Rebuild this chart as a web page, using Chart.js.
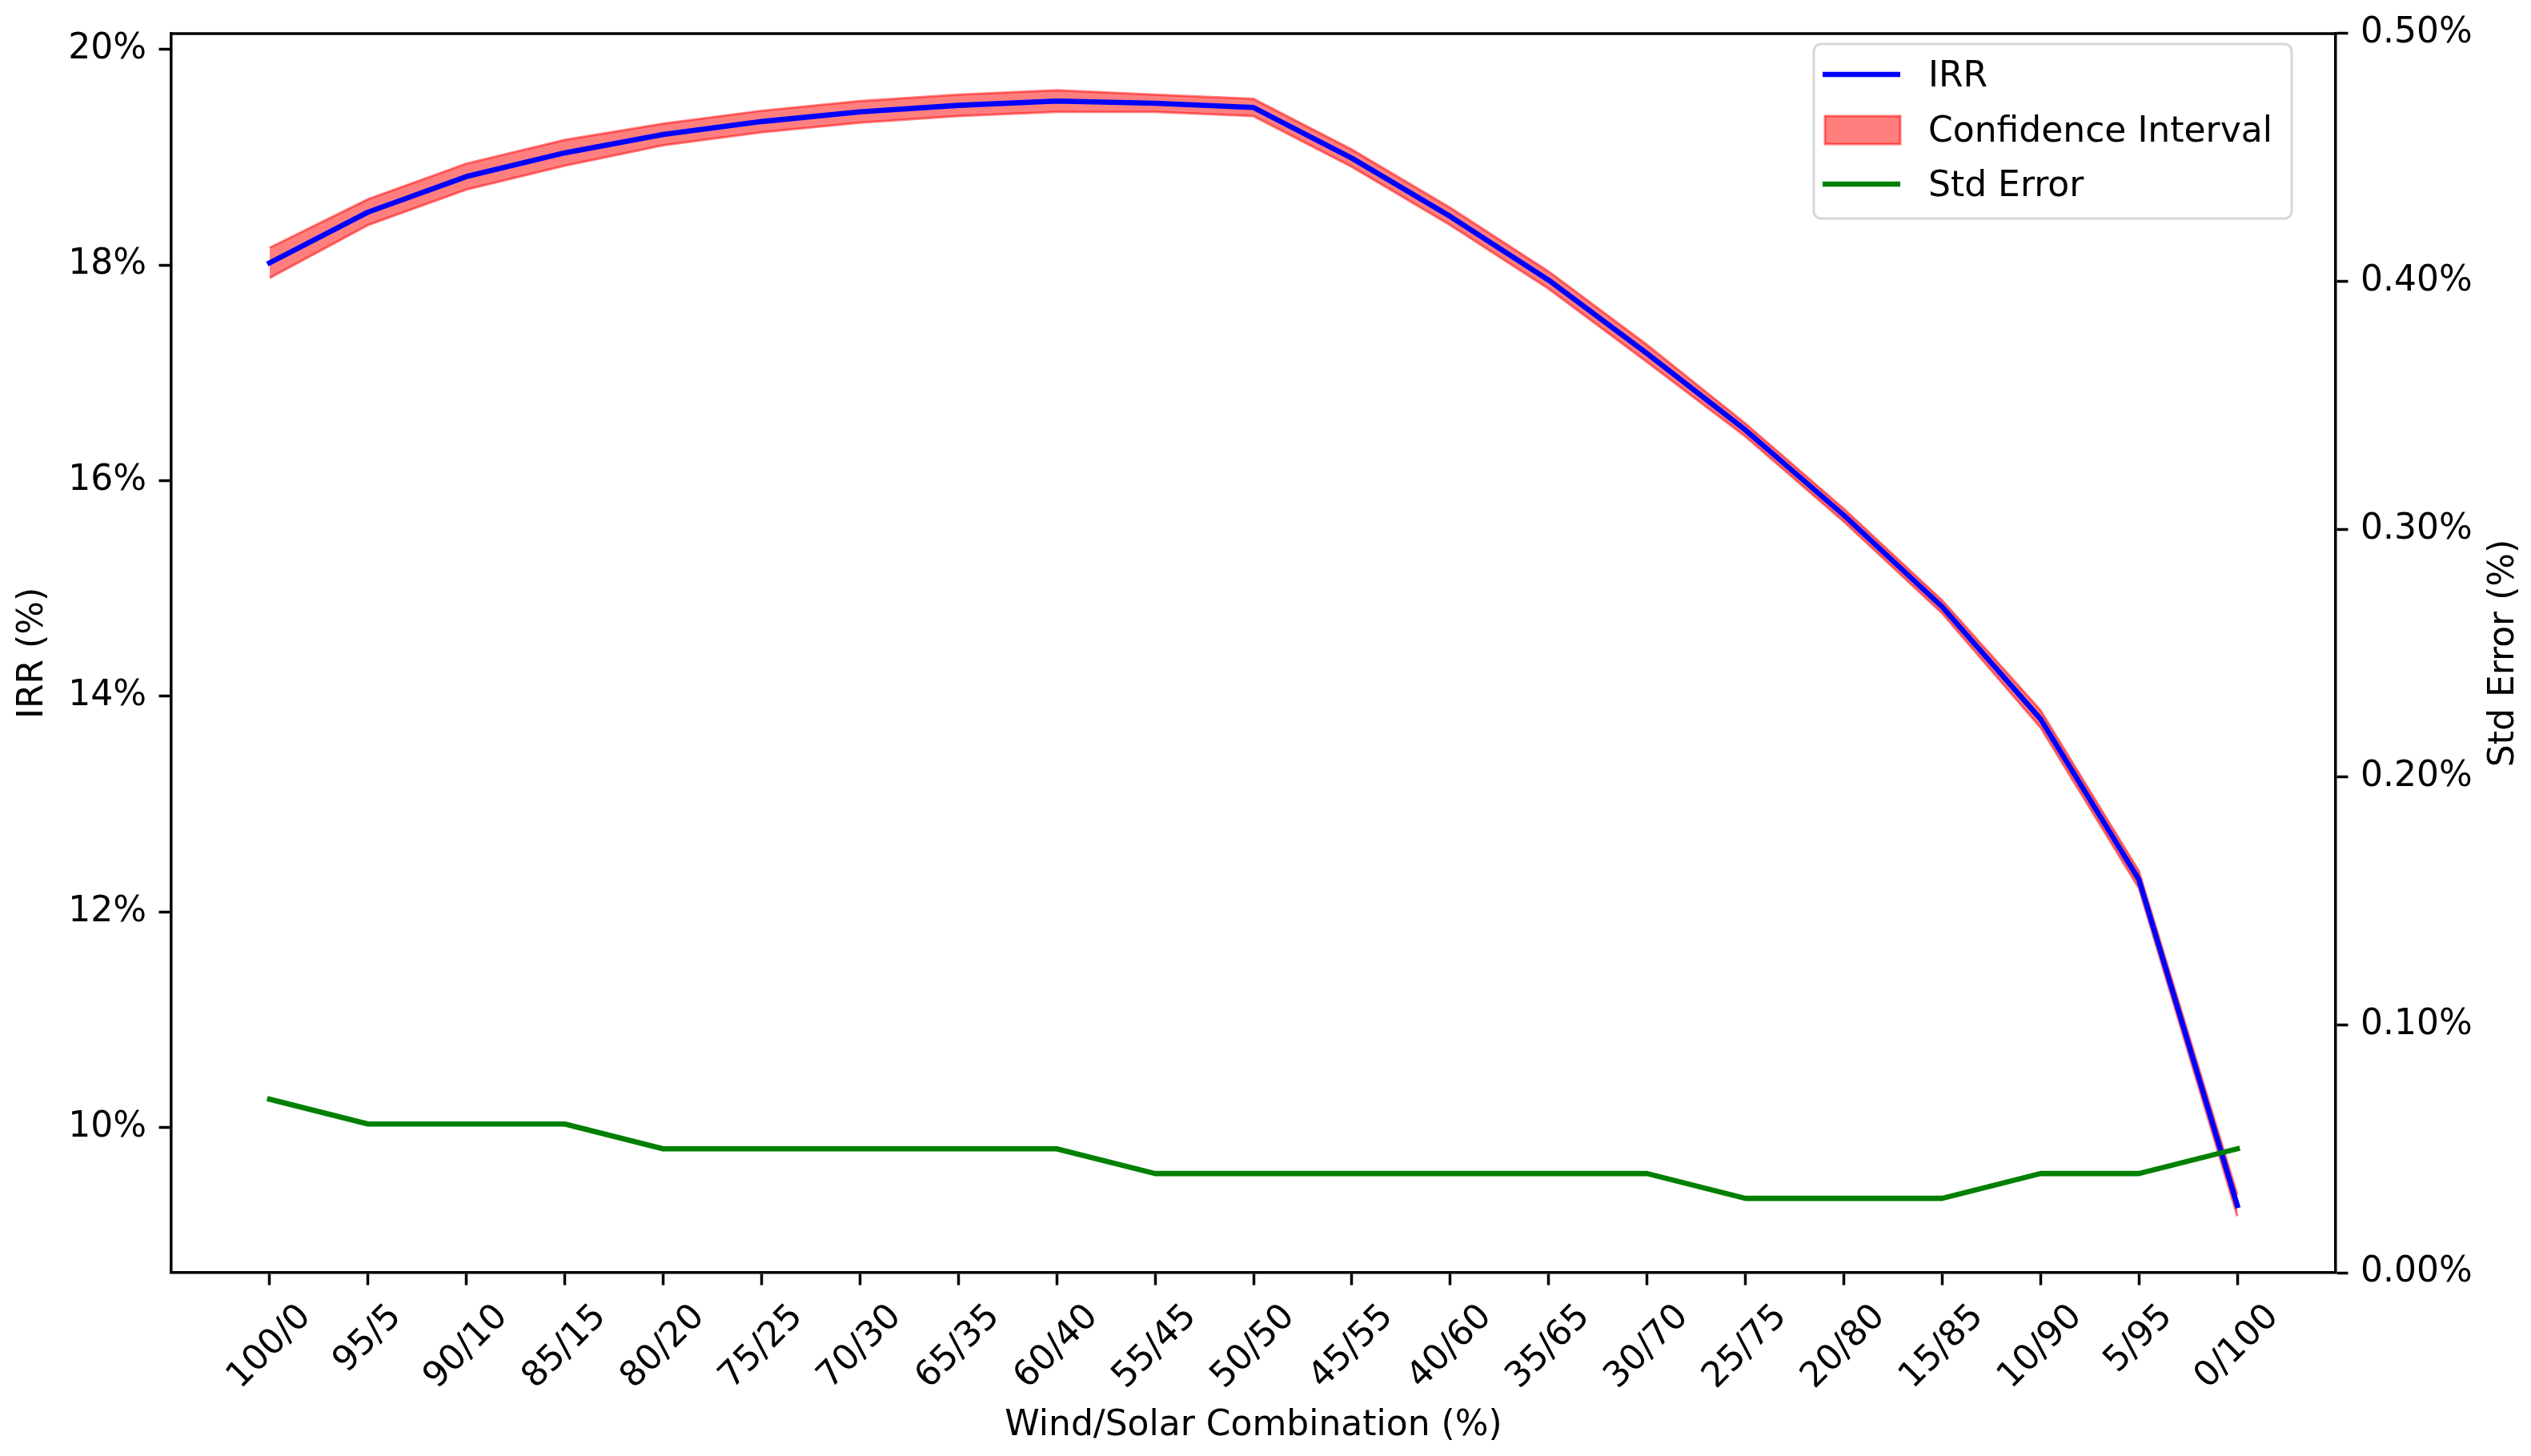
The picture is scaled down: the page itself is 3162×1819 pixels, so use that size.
<!DOCTYPE html>
<html>
<head>
<meta charset="utf-8">
<title>IRR by Wind/Solar Combination</title>
<script src="https://cdn.jsdelivr.net/npm/chart.js@4/dist/chart.umd.min.js"></script>
<style>
  html, body { margin: 0; padding: 0; background: #fff; }
  canvas { display: block; }
</style>
</head>
<body>
<canvas id="chart" width="3162" height="1819"></canvas>
<script>
// ── DATA ────────────────────────────────────────────
const categories = ['100/0','95/5','90/10','85/15','80/20','75/25','70/30','65/35','60/40','55/45',
  '50/50','45/55','40/60','35/65','30/70','25/75','20/80','15/85','10/90','5/95','0/100'];
const irr = [18.02, 18.49, 18.82, 19.04, 19.21, 19.33, 19.42, 19.48, 19.52, 19.50,
  19.46, 18.99, 18.45, 17.86, 17.18, 16.47, 15.68, 14.83, 13.79, 12.30, 9.28];
const ciUpper = [18.16, 18.61, 18.94, 19.16, 19.31, 19.43, 19.52, 19.58, 19.62, 19.58,
  19.54, 19.07, 18.53, 17.94, 17.26, 16.53, 15.74, 14.89, 13.87, 12.38, 9.38];
const ciLower = [17.88, 18.37, 18.70, 18.92, 19.11, 19.23, 19.32, 19.38, 19.42, 19.42,
  19.38, 18.91, 18.37, 17.78, 17.10, 16.41, 15.62, 14.77, 13.71, 12.22, 9.18];
const stdError = [0.07, 0.06, 0.06, 0.06, 0.05, 0.05, 0.05, 0.05, 0.05, 0.04,
  0.04, 0.04, 0.04, 0.04, 0.04, 0.03, 0.03, 0.03, 0.04, 0.04, 0.05];
const irrTicks = [10, 12, 14, 16, 18, 20];
const seTicks = [0, 0.1, 0.2, 0.3, 0.4, 0.5];
const irrRange = [8.656, 20.146];
const seRange = [0, 0.5];

// ── STYLE ───────────────────────────────────────────
const FAMILY = '"DejaVu Sans", "Liberation Sans", sans-serif';
const FONT = '44px ' + FAMILY;
const LW = 6.6;      // 1.5pt line
const SPINE = 3.5;   // 0.8pt spine
const TICK_LEN = 15.5;
const PAD = 15.5;

const pts = arr => arr.map((v, i) => ({x: i, y: v}));

const axisCommon = {
  grid: { drawOnChartArea: false, drawTicks: true, tickLength: TICK_LEN, tickWidth: SPINE, tickColor: '#000' },
  border: { display: true, color: '#000', width: SPINE },
  ticks: { color: '#000', font: { family: FAMILY, size: 44 }, padding: PAD }
};

// ── PLUGINS ─────────────────────────────────────────
const decorations = {
  id: 'decorations',
  afterDraw(chart) {
    const {ctx, chartArea: a, scales: {x}} = chart;
    ctx.save();

    // top spine
    ctx.strokeStyle = '#000';
    ctx.lineWidth = SPINE;
    ctx.beginPath();
    ctx.moveTo(a.left - SPINE / 2, a.top);
    ctx.lineTo(a.right + SPINE / 2, a.top);
    ctx.stroke();

    // rotated x tick labels, centred under each tick
    ctx.font = FONT;
    ctx.fillStyle = '#000';
    ctx.textAlign = 'center';
    ctx.textBaseline = 'middle';
    x.ticks.forEach(t => {
      const txt = categories[t.value];
      const w = ctx.measureText(txt).width;
      const cx = x.getPixelForValue(t.value);
      const cy = x.top + 37 + (w + 32) * Math.SQRT1_2 / 2;
      ctx.save();
      ctx.translate(cx, cy);
      ctx.rotate(-Math.PI / 4);
      ctx.fillText(txt, 0, 0);
      ctx.restore();
    });

    // axis titles
    ctx.textBaseline = 'alphabetic';
    ctx.fillText('Wind/Solar Combination (%)', (a.left + a.right) / 2, 1793);
    const midY = (a.top + a.bottom) / 2;
    ctx.save();
    ctx.translate(53, midY);
    ctx.rotate(-Math.PI / 2);
    ctx.fillText('IRR (%)', 0, 0);
    ctx.restore();
    ctx.save();
    ctx.translate(3140, midY);
    ctx.rotate(-Math.PI / 2);
    ctx.fillText('Std Error (%)', 0, 0);
    ctx.restore();

    // legend
    const lx = 2266, ly = 55, lw = 597, lh = 218;
    ctx.beginPath();
    ctx.roundRect(lx, ly, lw, lh, 9);
    ctx.fillStyle = 'rgba(255,255,255,0.8)';
    ctx.fill();
    ctx.strokeStyle = 'rgba(204,204,204,0.8)';
    ctx.lineWidth = 3;
    ctx.stroke();

    const rows = [93, 162, 230];
    ctx.lineWidth = LW;
    ctx.strokeStyle = '#0000ff';
    ctx.beginPath(); ctx.moveTo(2277, rows[0]); ctx.lineTo(2374, rows[0]); ctx.stroke();
    ctx.fillStyle = 'rgba(255,0,0,0.5)';
    ctx.fillRect(2280, 145, 94, 35);
    ctx.strokeStyle = 'rgba(255,0,0,0.5)';
    ctx.lineWidth = 3;
    ctx.strokeRect(2280, 145, 94, 35);
    ctx.lineWidth = LW;
    ctx.strokeStyle = '#008000';
    ctx.beginPath(); ctx.moveTo(2277, rows[2]); ctx.lineTo(2374, rows[2]); ctx.stroke();

    ctx.fillStyle = '#000';
    ctx.textAlign = 'left';
    ctx.textBaseline = 'middle';
    ['IRR', 'Confidence Interval', 'Std Error'].forEach((t, i) => ctx.fillText(t, 2409, rows[i] + 4));

    ctx.restore();
  }
};

// ── CHART ───────────────────────────────────────────
new Chart(document.getElementById('chart'), {
  type: 'line',
  data: {
    datasets: [
      {
        label: 'IRR', data: pts(irr), yAxisID: 'y', order: 1,
        borderColor: '#0000ff', borderWidth: LW, borderCapStyle: 'square', borderJoinStyle: 'round',
        pointRadius: 0, fill: false, tension: 0
      },
      {
        label: 'Confidence Interval', data: pts(ciUpper), yAxisID: 'y', order: 2,
        borderColor: 'rgba(255,0,0,0.5)', backgroundColor: 'rgba(255,0,0,0.5)', borderWidth: 3,
        pointRadius: 0, fill: '+1', tension: 0
      },
      {
        label: 'CI lower', data: pts(ciLower), yAxisID: 'y', order: 3,
        borderColor: 'rgba(255,0,0,0.5)', borderWidth: 3,
        pointRadius: 0, fill: false, tension: 0
      },
      {
        label: 'Std Error', data: pts(stdError), yAxisID: 'y2', order: 0,
        borderColor: '#008000', borderWidth: LW, borderCapStyle: 'square', borderJoinStyle: 'round',
        pointRadius: 0, fill: false, tension: 0
      }
    ]
  },
  options: {
    responsive: false,
    animation: false,
    devicePixelRatio: 1,
    layout: { padding: { top: 32, left: 0, right: 0, bottom: 0 } },
    plugins: { legend: { display: false }, tooltip: { enabled: false } },
    scales: {
      x: {
        ...axisCommon,
        type: 'linear', position: 'bottom', min: -1, max: 21,
        ticks: { ...axisCommon.ticks, display: false },
        afterBuildTicks: s => { s.ticks = categories.map((_, i) => ({value: i})); },
        afterFit: s => { s.height = 229; }
      },
      y: {
        ...axisCommon,
        type: 'linear', position: 'left', min: irrRange[0], max: irrRange[1],
        ticks: { ...axisCommon.ticks, callback: v => v + '%' },
        afterBuildTicks: s => { s.ticks = irrTicks.map(v => ({value: v})); },
        afterFit: s => { s.width = 214; }
      },
      y2: {
        ...axisCommon,
        type: 'linear', position: 'right', min: seRange[0], max: seRange[1],
        ticks: { ...axisCommon.ticks, callback: v => v.toFixed(2) + '%' },
        afterBuildTicks: s => { s.ticks = seTicks.map(v => ({value: v})); },
        afterFit: s => { s.width = 244; }
      }
    }
  },
  plugins: [decorations]
});
</script>
</body>
</html>
